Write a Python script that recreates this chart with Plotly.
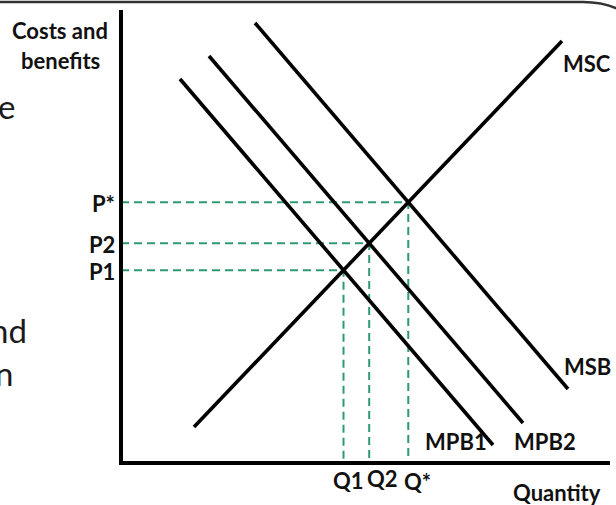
import plotly.graph_objects as go

# ---------------- data (quantity / cost units, origin at the axes corner) ----------------
AXIS_Q_MAX = 489
AXIS_P_MAX = 453

# straight-line curves: [start, end]
MSC_Q = [73, 441]
MSC_P = [36, 422]
MPB1_Q = [59, 372]
MPB1_P = [384, 18]
MPB2_Q = [88, 402]
MPB2_P = [407, 40]
MSB_Q = [134, 447]
MSB_P = [440, 74]

CURVE_NAMES = ["MSC", "MSB", "MPB1", "MPB2"]
CURVE_LABEL_POS = {"MSC": (466, 400), "MSB": (466, 97), "MPB1": (335, 22), "MPB2": (424, 22)}

EQ_LABELS_P = ["P1", "P2", "P*"]
EQ_LABELS_Q = ["Q1", "Q2", "Q*"]
Q_LABEL_SHIFT = [5, 13, 9]
Q_LABEL_Y = [-17, -15, -18]

Y_TITLE = ["Costs and", "benefits"]
X_TITLE = "Quantity"
SIDE_FRAGMENTS = [("e", 357, -4), ("nd", 133, -12), ("n", 90, -7)]

BLACK = "#000000"
GREEN = "#2E9A72"
FONT = "Lato"


def line_coef(q, p):
    m = (p[1] - p[0]) / (q[1] - q[0])
    return m, p[0] - m * q[0]


def intersect(a, b):
    m1, c1 = line_coef(*a)
    m2, c2 = line_coef(*b)
    x = (c2 - c1) / (m1 - m2)
    return x, m1 * x + c1


msc = (MSC_Q, MSC_P)
eqs = [intersect(msc, (MPB1_Q, MPB1_P)),
       intersect(msc, (MPB2_Q, MPB2_P)),
       intersect(msc, (MSB_Q, MSB_P))]

fig = go.Figure()

# dashed guide lines
for (q, p) in eqs:
    fig.add_trace(go.Scatter(x=[0, q, q], y=[p, p, 0], mode="lines",
                             line=dict(color=GREEN, width=2, dash="8px,5px"),
                             hoverinfo="skip", showlegend=False))

# curves
for qs, ps in [(MSC_Q, MSC_P), (MPB1_Q, MPB1_P), (MPB2_Q, MPB2_P), (MSB_Q, MSB_P)]:
    fig.add_trace(go.Scatter(x=qs, y=ps, mode="lines",
                             line=dict(color=BLACK, width=3.6),
                             hoverinfo="skip", showlegend=False))

# axes lines
fig.add_trace(go.Scatter(x=[0, 0, AXIS_Q_MAX], y=[AXIS_P_MAX, 0, 0], mode="lines",
                         line=dict(color=BLACK, width=4), hoverinfo="skip", showlegend=False))

ann = []
lab_font = dict(family=FONT, size=22, color="#111111")
for name in CURVE_NAMES:
    x, y = CURVE_LABEL_POS[name]
    ann.append(dict(x=x, y=y, text="<b>%s</b>" % name, showarrow=False, font=lab_font,
                    xanchor="center", yanchor="middle"))
for (q, p), lp, lq, sh, qy in zip(eqs, EQ_LABELS_P, EQ_LABELS_Q, Q_LABEL_SHIFT, Q_LABEL_Y):
    ann.append(dict(x=-4, y=p, text="<b>%s</b>" % lp, showarrow=False, font=lab_font,
                    xanchor="right", yanchor="middle", yshift=-1))
    ann.append(dict(x=q, y=qy, text="<b>%s</b>" % lq, showarrow=False, font=lab_font,
                    xanchor="center", yanchor="middle", xshift=sh))
ann.append(dict(x=-61, y=433, text="<b>%s</b>" % Y_TITLE[0], showarrow=False, font=lab_font,
                xanchor="center", yanchor="middle"))
ann.append(dict(x=-61, y=403, text="<b>%s</b>" % Y_TITLE[1], showarrow=False, font=lab_font,
                xanchor="center", yanchor="middle"))
ann.append(dict(x=436, y=-29, text="<b>%s</b>" % X_TITLE, showarrow=False, font=lab_font,
                xanchor="center", yanchor="middle"))
for txt, y, xs in SIDE_FRAGMENTS:
    ann.append(dict(x=-121, y=y, text=txt, showarrow=False,
                    font=dict(family=FONT, size=33, color="#1a1a1a"),
                    xanchor="left", yanchor="middle", xshift=xs))

fig.update_layout(
    width=616, height=505,
    margin=dict(l=0, r=0, t=0, b=0),
    paper_bgcolor="white", plot_bgcolor="white",
    xaxis=dict(range=[-121, 495], visible=False, fixedrange=True),
    yaxis=dict(range=[-42, 463], visible=False, fixedrange=True),
    annotations=ann,
    shapes=[dict(type="path", xref="x", yref="y",
                 path="M -121,461 L 462,461 Q 482,461 497,454",
                 line=dict(color="#333333", width=2.5))],
    showlegend=False,
)

fig.write_html("out.html", config={"displayModeBar": False},
               post_script="document.body.style.margin='0';")
